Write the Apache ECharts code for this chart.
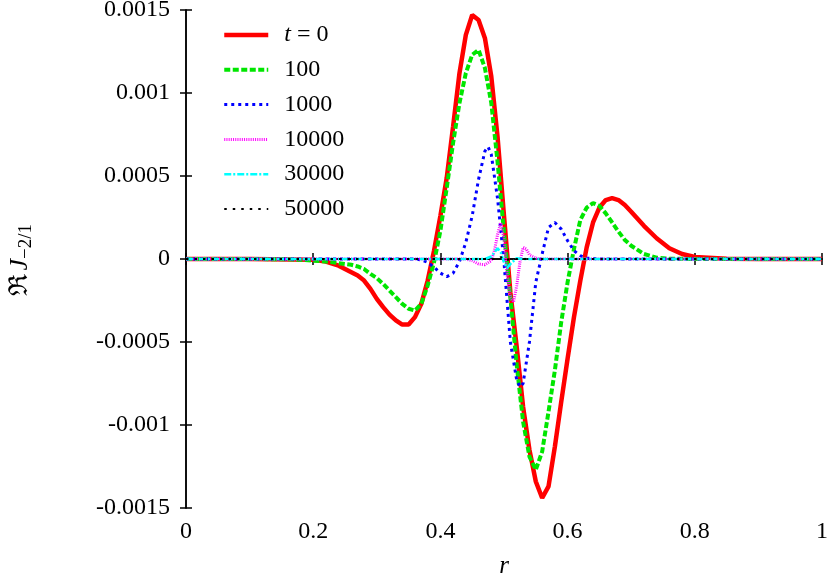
<!DOCTYPE html>
<html>
<head>
<meta charset="utf-8">
<script src="https://cdn.jsdelivr.net/npm/echarts@6/dist/echarts.min.js"></script>
<style>
  html, body { margin: 0; padding: 0; background: #fff; }
  #chart { width: 831px; height: 577px; }
</style>
</head>
<body>
<div id="chart"></div>
<script>
// values of Re J_{-2/1} are written in units of 1e-4
const UNIT = 1e-4;
const xTickLabels = ['0', '0.2', '0.4', '0.6', '0.8', '1'];
const yTickLabels = ['-0.0015', '-0.001', '-0.0005', '0', '0.0005', '0.001', '0.0015'];
const seriesNames = ['t = 0', '100', '1000', '10000', '30000', '50000'];

// t = 0
const r0 = [0, 0.1, 0.2, 0.22, 0.24, 0.26, 0.27, 0.28, 0.29, 0.30, 0.31, 0.32, 0.33, 0.34, 0.35, 0.36, 0.37, 0.38, 0.39, 0.40,
  0.41, 0.42, 0.43, 0.44, 0.45, 0.46, 0.47, 0.48, 0.49, 0.50, 0.51, 0.52, 0.53, 0.54, 0.55, 0.56, 0.57, 0.58, 0.59,
  0.60, 0.61, 0.62, 0.63, 0.64, 0.65, 0.66, 0.67, 0.68, 0.69, 0.70, 0.72, 0.74, 0.76, 0.78, 0.80, 0.85, 0.9, 1];
const j0 = [0, 0, -0.05, -0.15, -0.4, -0.8, -1.0, -1.3, -1.8, -2.4, -2.9, -3.35, -3.7, -3.95, -3.95, -3.5, -2.7, -1.3, 0.5, 2.6,
  4.9, 8.0, 11.2, 13.5, 14.7, 14.4, 13.3, 11.0, 7.3, 2.6, -2.0, -5.3, -8.9, -11.5, -13.4, -14.4, -13.7, -11.3, -8.6,
  -6.0, -3.5, -1.3, 0.7, 2.2, 3.1, 3.55, 3.67, 3.55, 3.25, 2.85, 2.0, 1.25, 0.65, 0.3, 0.12, 0.02, 0, 0];

// t = 100
const r1 = [0, 0.1, 0.16, 0.18, 0.20, 0.22, 0.24, 0.26, 0.27, 0.28, 0.29, 0.30, 0.31, 0.32, 0.33, 0.34, 0.35, 0.36, 0.37, 0.38,
  0.39, 0.40, 0.41, 0.42, 0.43, 0.44, 0.45, 0.46, 0.47, 0.48, 0.49, 0.50, 0.51, 0.52, 0.53, 0.54, 0.55, 0.56, 0.57,
  0.58, 0.59, 0.60, 0.61, 0.62, 0.63, 0.64, 0.65, 0.66, 0.67, 0.68, 0.69, 0.70, 0.72, 0.74, 0.76, 0.8, 1];
const j1 = [0, 0, -0.02, -0.05, -0.1, -0.15, -0.25, -0.35, -0.45, -0.6, -0.9, -1.15, -1.5, -1.9, -2.3, -2.7, -3.0, -3.1, -2.7, -1.6,
  -0.2, 1.7, 4.3, 7.0, 9.4, 11.2, 12.3, 12.6, 11.5, 9.4, 5.8, 1.6, -2.3, -6.4, -9.8, -11.9, -12.7, -11.6, -9.2,
  -6.7, -3.8, -1.4, 0.6, 2.35, 3.1, 3.37, 3.2, 2.75, 2.2, 1.65, 1.15, 0.8, 0.3, 0.08, 0.02, 0, 0];

// t = 1000
const r2 = [0, 0.36, 0.37, 0.38, 0.39, 0.40, 0.41, 0.42, 0.43, 0.44, 0.45, 0.46, 0.47, 0.475, 0.48, 0.49, 0.50,
  0.51, 0.52, 0.525, 0.53, 0.54, 0.55, 0.56, 0.57, 0.58, 0.59, 0.60, 0.61, 0.62, 0.63, 0.65, 1];
const j2 = [0, 0, -0.05, -0.2, -0.5, -0.85, -1.07, -0.85, -0.15, 1.0, 2.6, 4.8, 6.5, 6.75, 6.3, 3.6, -0.2,
  -5.0, -7.3, -7.7, -7.5, -5.0, -1.4, 0.3, 1.9, 2.2, 1.8, 1.1, 0.5, 0.2, 0.05, 0, 0];

// t = 10000
const r3 = [0, 0.44, 0.45, 0.46, 0.47, 0.48, 0.485, 0.49, 0.495, 0.50, 0.505, 0.51, 0.515, 0.52, 0.525, 0.53,
  0.535, 0.54, 0.55, 0.56, 1];
const j3 = [0, 0, -0.1, -0.3, -0.35, -0.1, 0.5, 1.5, 2.2, 1.2, -1.0, -2.3, -2.6, -1.6, -0.2, 0.7,
  0.6, 0.25, 0.05, 0, 0];

// t = 30000
const r4 = [0, 0.47, 0.48, 0.49, 0.495, 0.50, 0.505, 0.51, 0.52, 0.53, 1];
const j4 = [0, 0, 0.15, 0.65, 0.4, -0.2, -0.55, -0.3, 0.05, 0, 0];

// t = 50000
const r5 = [0, 0.49, 0.495, 0.50, 0.51, 1];
const j5 = [0, 0, 0.12, -0.08, 0, 0];

const FONT = '"Liberation Serif", "Times New Roman", "DejaVu Serif", serif';

function pairs(rs, js) {
  return rs.map((r, i) => [r, js[i] * UNIT]);
}

const styles = [
  { color: '#ff0000', width: 4.5, type: 'solid' },
  { color: '#00e600', width: 4, type: [6, 2.5] },
  { color: '#0000ff', width: 3, type: [3, 4] },
  { color: '#ff00ff', width: 3, type: [1, 1.2] },
  { color: '#00ffff', width: 2.5, type: [7, 2, 2, 2] },
  { color: '#000000', width: 2, type: [2.5, 6] }
];
const rs = [r0, r1, r2, r3, r4, r5];
const js = [j0, j1, j2, j3, j4, j5];

const chart = echarts.init(document.getElementById('chart'));

const tickStyle = { show: true, inside: true, length: 6, lineStyle: { color: '#000', width: 1.5 } };
const lineStyle = { show: true, lineStyle: { color: '#000', width: 1.5 } };

chart.setOption({
  animation: false,
  backgroundColor: '#fff',
  grid: { left: 186, right: 9, top: 10, bottom: 69, outerBoundsMode: 'none', containLabel: false },
  legend: {
    orient: 'vertical',
    left: 222,
    top: 23,
    padding: 0,
    itemWidth: 44,
    itemHeight: 14,
    itemGap: 10.8,
    data: seriesNames,
    itemStyle: { opacity: 0 },
    lineStyle: { width: 'inherit', type: 'inherit' },
    formatter: (name) => name === 't = 0' ? '{i|t} = 0' : name,
    textStyle: {
      fontFamily: FONT, fontSize: 24, color: '#000', lineHeight: 24, padding: [0, 0, 0, 11],
      rich: { i: { fontFamily: FONT, fontSize: 24, fontStyle: 'italic', lineHeight: 24 } }
    }
  },
  graphic: [{
    type: 'text',
    x: 20, y: 260,
    rotation: Math.PI / 2,
    style: {
      text: '{r|ℜ} {i|J}{s|−2/1}',
      align: 'center',
      verticalAlign: 'middle',
      fill: '#000',
      rich: {
        r: { fontFamily: FONT, fontSize: 26, lineHeight: 30 },
        i: { fontFamily: FONT, fontSize: 26, fontStyle: 'italic', lineHeight: 30 },
        s: { fontFamily: FONT, fontSize: 19, lineHeight: 30, padding: [12, 0, 0, 0] }
      }
    }
  }],
  xAxis: [{
    type: 'value', min: 0, max: 1, interval: 0.2,
    axisLine: lineStyle, axisTick: tickStyle, splitLine: { show: false },
    axisLabel: {
      fontFamily: FONT, fontSize: 24, color: '#000', margin: 12,
      formatter: (v) => xTickLabels[Math.round(v / 0.2)]
    },
    name: 'r', nameLocation: 'middle', nameGap: 46,
    nameTextStyle: { fontFamily: FONT, fontSize: 25, fontStyle: 'italic', color: '#000' }
  }, {
    type: 'value', min: 0, max: 1, interval: 0.2, position: 'top',
    axisLine: lineStyle, axisTick: tickStyle, splitLine: { show: false }, axisLabel: { show: false }
  }],
  yAxis: [{
    type: 'value', min: -0.0015, max: 0.0015, interval: 0.0005,
    axisLine: lineStyle, axisTick: tickStyle, splitLine: { show: false },
    axisLabel: {
      fontFamily: FONT, fontSize: 24, color: '#000', margin: 16,
      formatter: (v) => yTickLabels[Math.round((v + 0.0015) / 0.0005)]
    }
  }, {
    type: 'value', min: -0.0015, max: 0.0015, interval: 0.0005, position: 'right',
    axisLine: lineStyle, axisTick: tickStyle, splitLine: { show: false }, axisLabel: { show: false }
  }],
  series: seriesNames.map((name, k) => ({
    name: name,
    type: 'line',
    symbol: 'none',
    showSymbol: false,
    clip: true,
    z: 2 + k,
    color: styles[k].color,
    lineStyle: { color: styles[k].color, width: styles[k].width, type: styles[k].type },
    data: pairs(rs[k], js[k])
  }))
});
</script>
</body>
</html>
